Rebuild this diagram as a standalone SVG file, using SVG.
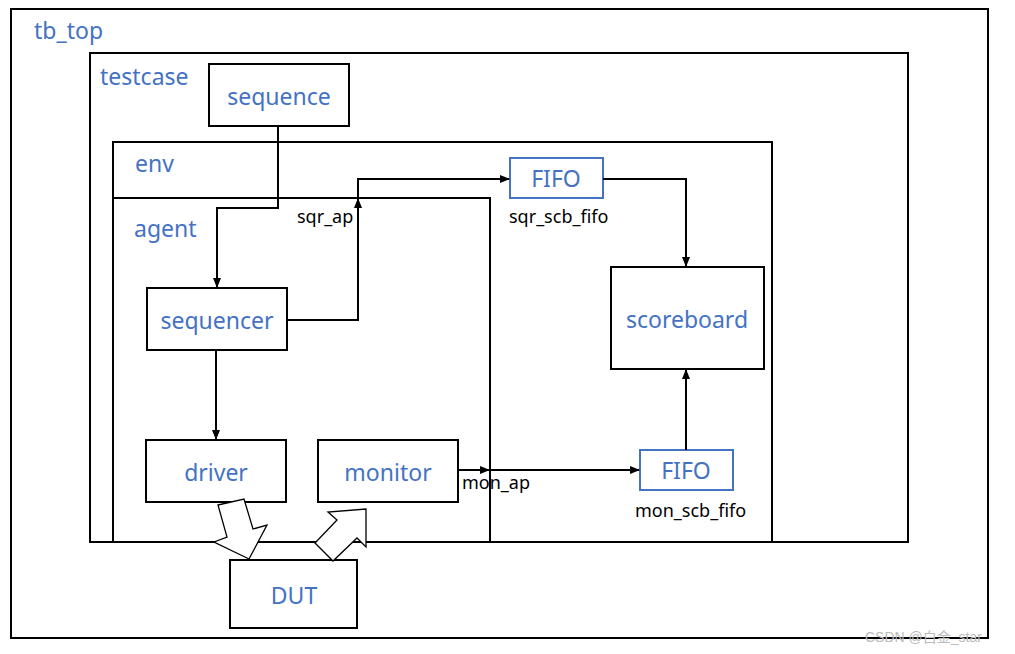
<svg xmlns="http://www.w3.org/2000/svg" width="1015" height="654" viewBox="0 0 1015 654">
<defs>
<marker id="ah" markerWidth="10" markerHeight="8" refX="9" refY="4" orient="auto" markerUnits="userSpaceOnUse">
<path d="M0,0 L10,4 L0,8 Z" fill="#000"/>
</marker>
<style>
.box{fill:none;stroke:#000;stroke-width:2}
.fifo{fill:none;stroke:#4472C4;stroke-width:2}
.bl{font-family:"Noto Sans","Liberation Sans",sans-serif;font-size:23px;fill:#4472C4}
.bc{font-family:"Noto Sans","Liberation Sans",sans-serif;font-size:23px;fill:#4472C4;text-anchor:middle;dominant-baseline:central}
.lb{font-family:"Noto Sans","Liberation Sans",sans-serif;font-size:18px;fill:#000}
.ln{fill:none;stroke:#000;stroke-width:2}
.hol{fill:#fff;stroke:#000;stroke-width:1.3}
</style>
</defs>
<rect width="1015" height="654" fill="#fff"/>
<g id="tb_top"><rect class="box" x="11" y="9" width="977" height="629"/><text class="bl" x="34" y="39">tb_top</text></g>
<g id="testcase"><rect class="box" x="90" y="53" width="818" height="489"/><text class="bl" x="100" y="85">testcase</text></g>
<g id="env"><rect class="box" x="113" y="142" width="659" height="400"/><text class="bl" x="135" y="172">env</text></g>
<g id="agent"><rect class="box" x="113" y="198" width="377" height="344"/><text class="bl" x="134" y="237">agent</text></g>
<g id="sequence"><rect class="box" x="209" y="64" width="140" height="62"/><text class="bc" x="279" y="96">sequence</text></g>
<g id="sequencer"><rect class="box" x="147" y="288" width="140" height="62"/><text class="bc" x="217" y="320">sequencer</text></g>
<g id="driver"><rect class="box" x="146" y="440" width="140" height="62"/><text class="bc" x="216" y="472">driver</text></g>
<g id="monitor"><rect class="box" x="318" y="440" width="140" height="62"/><text class="bc" x="388" y="472">monitor</text></g>
<g id="scoreboard"><rect class="box" x="611" y="267" width="153" height="102"/><text class="bc" x="687" y="319">scoreboard</text></g>
<g id="fifo_sqr"><rect class="fifo" x="510" y="158" width="93" height="40"/><text class="bc" x="556" y="178">FIFO</text><text class="lb" x="509" y="223">sqr_scb_fifo</text></g>
<g id="fifo_mon"><rect class="fifo" x="640" y="450" width="93" height="40"/><text class="bc" x="686" y="470">FIFO</text><text class="lb" x="635" y="517">mon_scb_fifo</text></g>
<g id="DUT"><rect class="box" x="230" y="560" width="127" height="68"/><text class="bc" x="294" y="595">DUT</text></g>
<g id="connectors">
<polyline class="ln" points="278,126 278,208 217,208 217,287" marker-end="url(#ah)"/>
<polyline class="ln" points="287,320 358,320 358,199" marker-end="url(#ah)"/>
<polyline class="ln" points="358,199 358,179 509,179" marker-end="url(#ah)"/>
<polyline class="ln" points="603,179 686,179 686,266" marker-end="url(#ah)"/>
<polyline class="ln" points="216,350 216,439" marker-end="url(#ah)"/>
<polyline class="ln" points="458,470 489,470" marker-end="url(#ah)"/>
<polyline class="ln" points="490,470 639,470" marker-end="url(#ah)"/>
<polyline class="ln" points="686,450 686,370" marker-end="url(#ah)"/>
<text class="lb" x="297" y="223">sqr_ap</text>
<text class="lb" x="462" y="489">mon_ap</text>
<polygon class="hol" points="218,505 244,499 253,529 267,525 249,559 214,542 227,537"/>
<polygon class="hol" points="315,543 333,561 357,538 366,547 366,509 328,512 337,520"/>
</g>
<text x="865" y="642" style="font-family:'Liberation Sans','Noto Sans CJK SC',sans-serif;font-size:14px;fill:#bbb">CSDN @白金_star</text>
</svg>
